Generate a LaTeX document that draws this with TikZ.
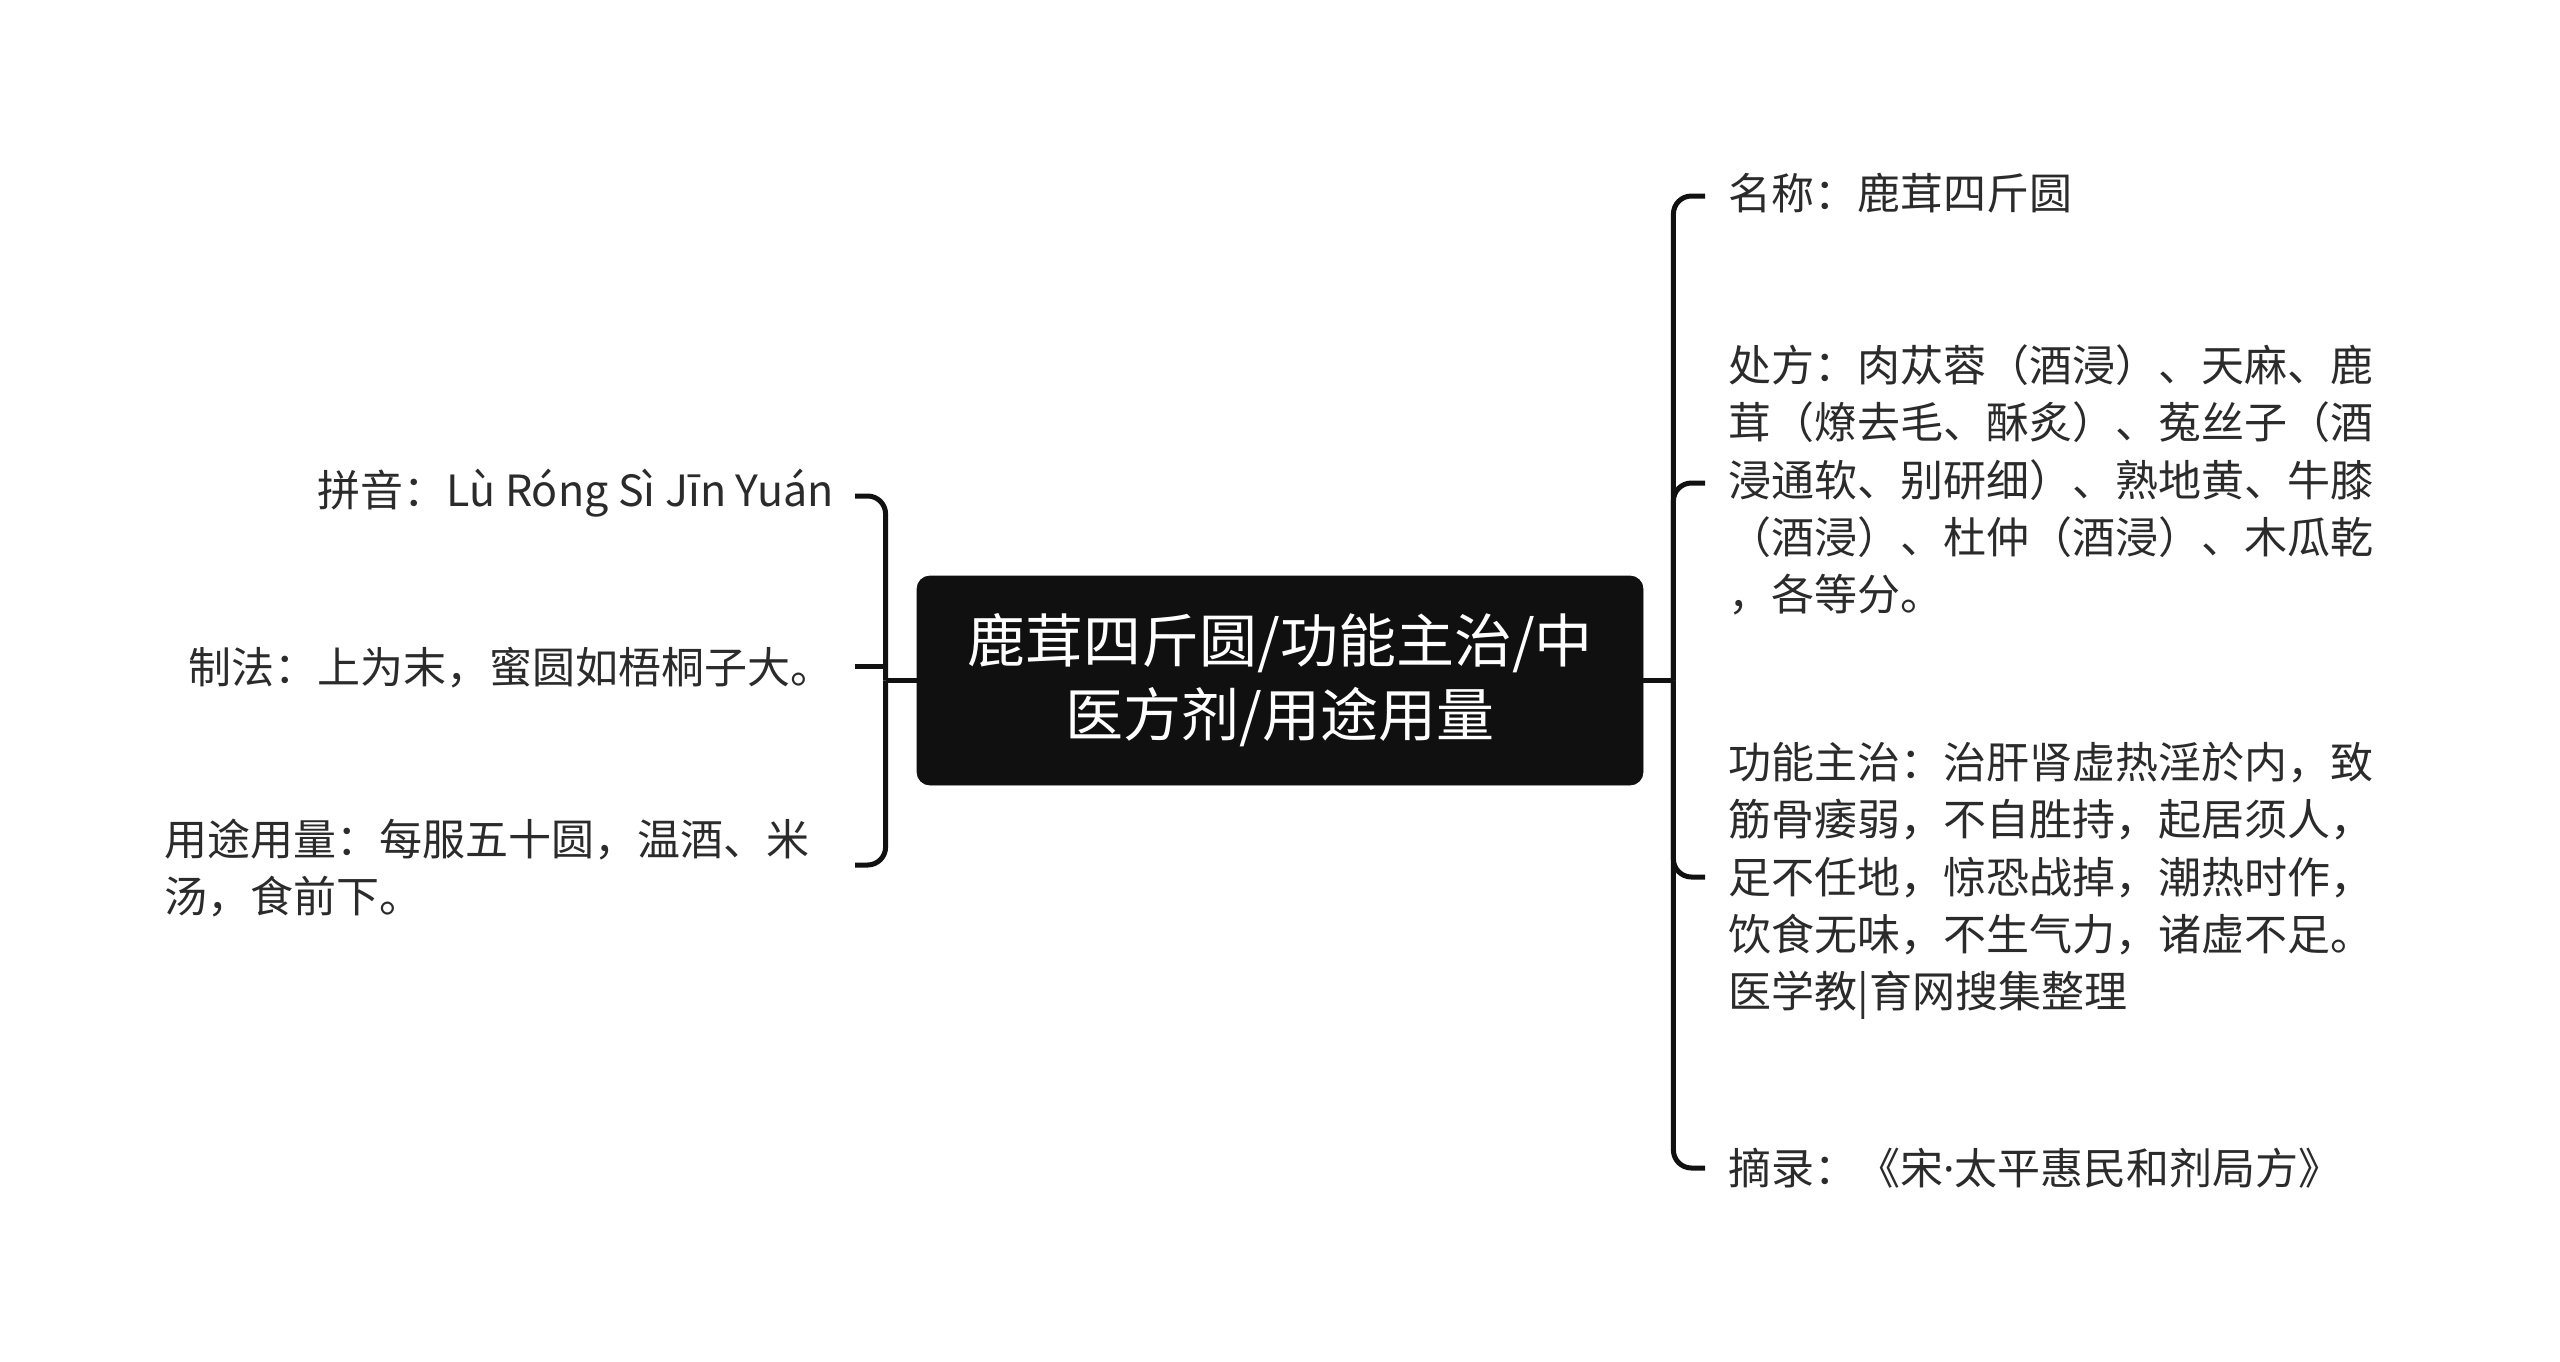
\documentclass[tikz,border=0pt]{standalone}
\usepackage{fontspec}
\setmainfont{Noto Sans CJK SC}
\newfontfamily\latinfont{Noto Sans}
\usetikzlibrary{calc}
\definecolor{txt}{HTML}{2B2B2B}
\definecolor{boxc}{HTML}{101010}
\definecolor{linec}{HTML}{111111}
\begin{document}
\begin{tikzpicture}[x=0.5pt,y=-0.5pt,
  leaf/.style={inner sep=0pt, font=\fontsize{21.5pt}{28.6pt}\selectfont, text=txt, align=left},
  rootbox/.style={fill=boxc, draw=boxc, rounded corners=6.5pt, minimum width=363pt, minimum height=104.5pt, inner sep=0pt, text=white, align=center, font=\fontsize{29pt}{37pt}\selectfont},
  trunk/.style={line width=2.5pt, draw=linec},
  conn/.style={line width=2.5pt, draw=linec, rounded corners=9pt}]
\useasboundingbox (0,0) rectangle (2560,1361);
\fill[white] (0,0) rectangle (2560,1361);

\node[rootbox] (root) at (1280,680.5) {鹿茸四斤圆/功能主治/中\\医方剂/用途用量};

% left children
\node[leaf, anchor=east] (py) at (834,493) {拼音：Lù Róng Sì Jīn Yuán};
\node[leaf, anchor=east] (zf) at (834,668) {制法：上为末，蜜圆如梧桐子大。};
\node[leaf, anchor=east, text width=334.5pt] (yt) at (834,868) {用途用量：每服五十圆，温酒、米\\汤，食前下。};

% right children
\node[leaf, anchor=west] (mc) at (1728,193) {名称：鹿茸四斤圆};
\node[leaf, anchor=west] (cf) at (1728,480) {处方：肉苁蓉（酒浸）、天麻、鹿\\茸（燎去毛、酥炙）、菟丝子（酒\\浸通软、别研细）、熟地黄、牛膝\\（酒浸）、杜仲（酒浸）、木瓜乾\\，各等分。};
\node[leaf, anchor=west] (gn) at (1728,881) {功能主治：治肝肾虚热淫於内，致\\筋骨痿弱，不自胜持，起居须人，\\足不任地，惊恐战掉，潮热时作，\\饮食无味，不生气力，诸虚不足。\\医学教|育网搜集整理};
\node[leaf, anchor=west] (zl) at (1728,1168) {摘录：《宋{\latinfont ·}太平惠民和剂局方》};

% junction points
\coordinate (jl) at ($(root.west)+(-31,0)$);
\coordinate (jr) at ($(root.east)+(30,0)$);
\coordinate (zfs) at ($(zf.east)+(21,-2)$);

% left connectors
\draw[trunk] (root.west) -- (jl);
\draw[conn] (jl) |- ($(py.east)+(21,3)$);
\draw[trunk] (zfs) -- (zfs -| jl);
\draw[conn] (jl) |- ($(yt.east)+(21,-3)$);

% right connectors
\draw[trunk] (root.east) -- (jr);
\draw[conn] (jr) |- ($(mc.west)+(-23,3)$);
\draw[conn] (jr) |- ($(cf.west)+(-23,3)$);
\draw[conn] (jr) |- ($(gn.west)+(-23,-4)$);
\draw[conn] (jr) |- ($(zl.west)+(-23,0)$);
\end{tikzpicture}
\end{document}
